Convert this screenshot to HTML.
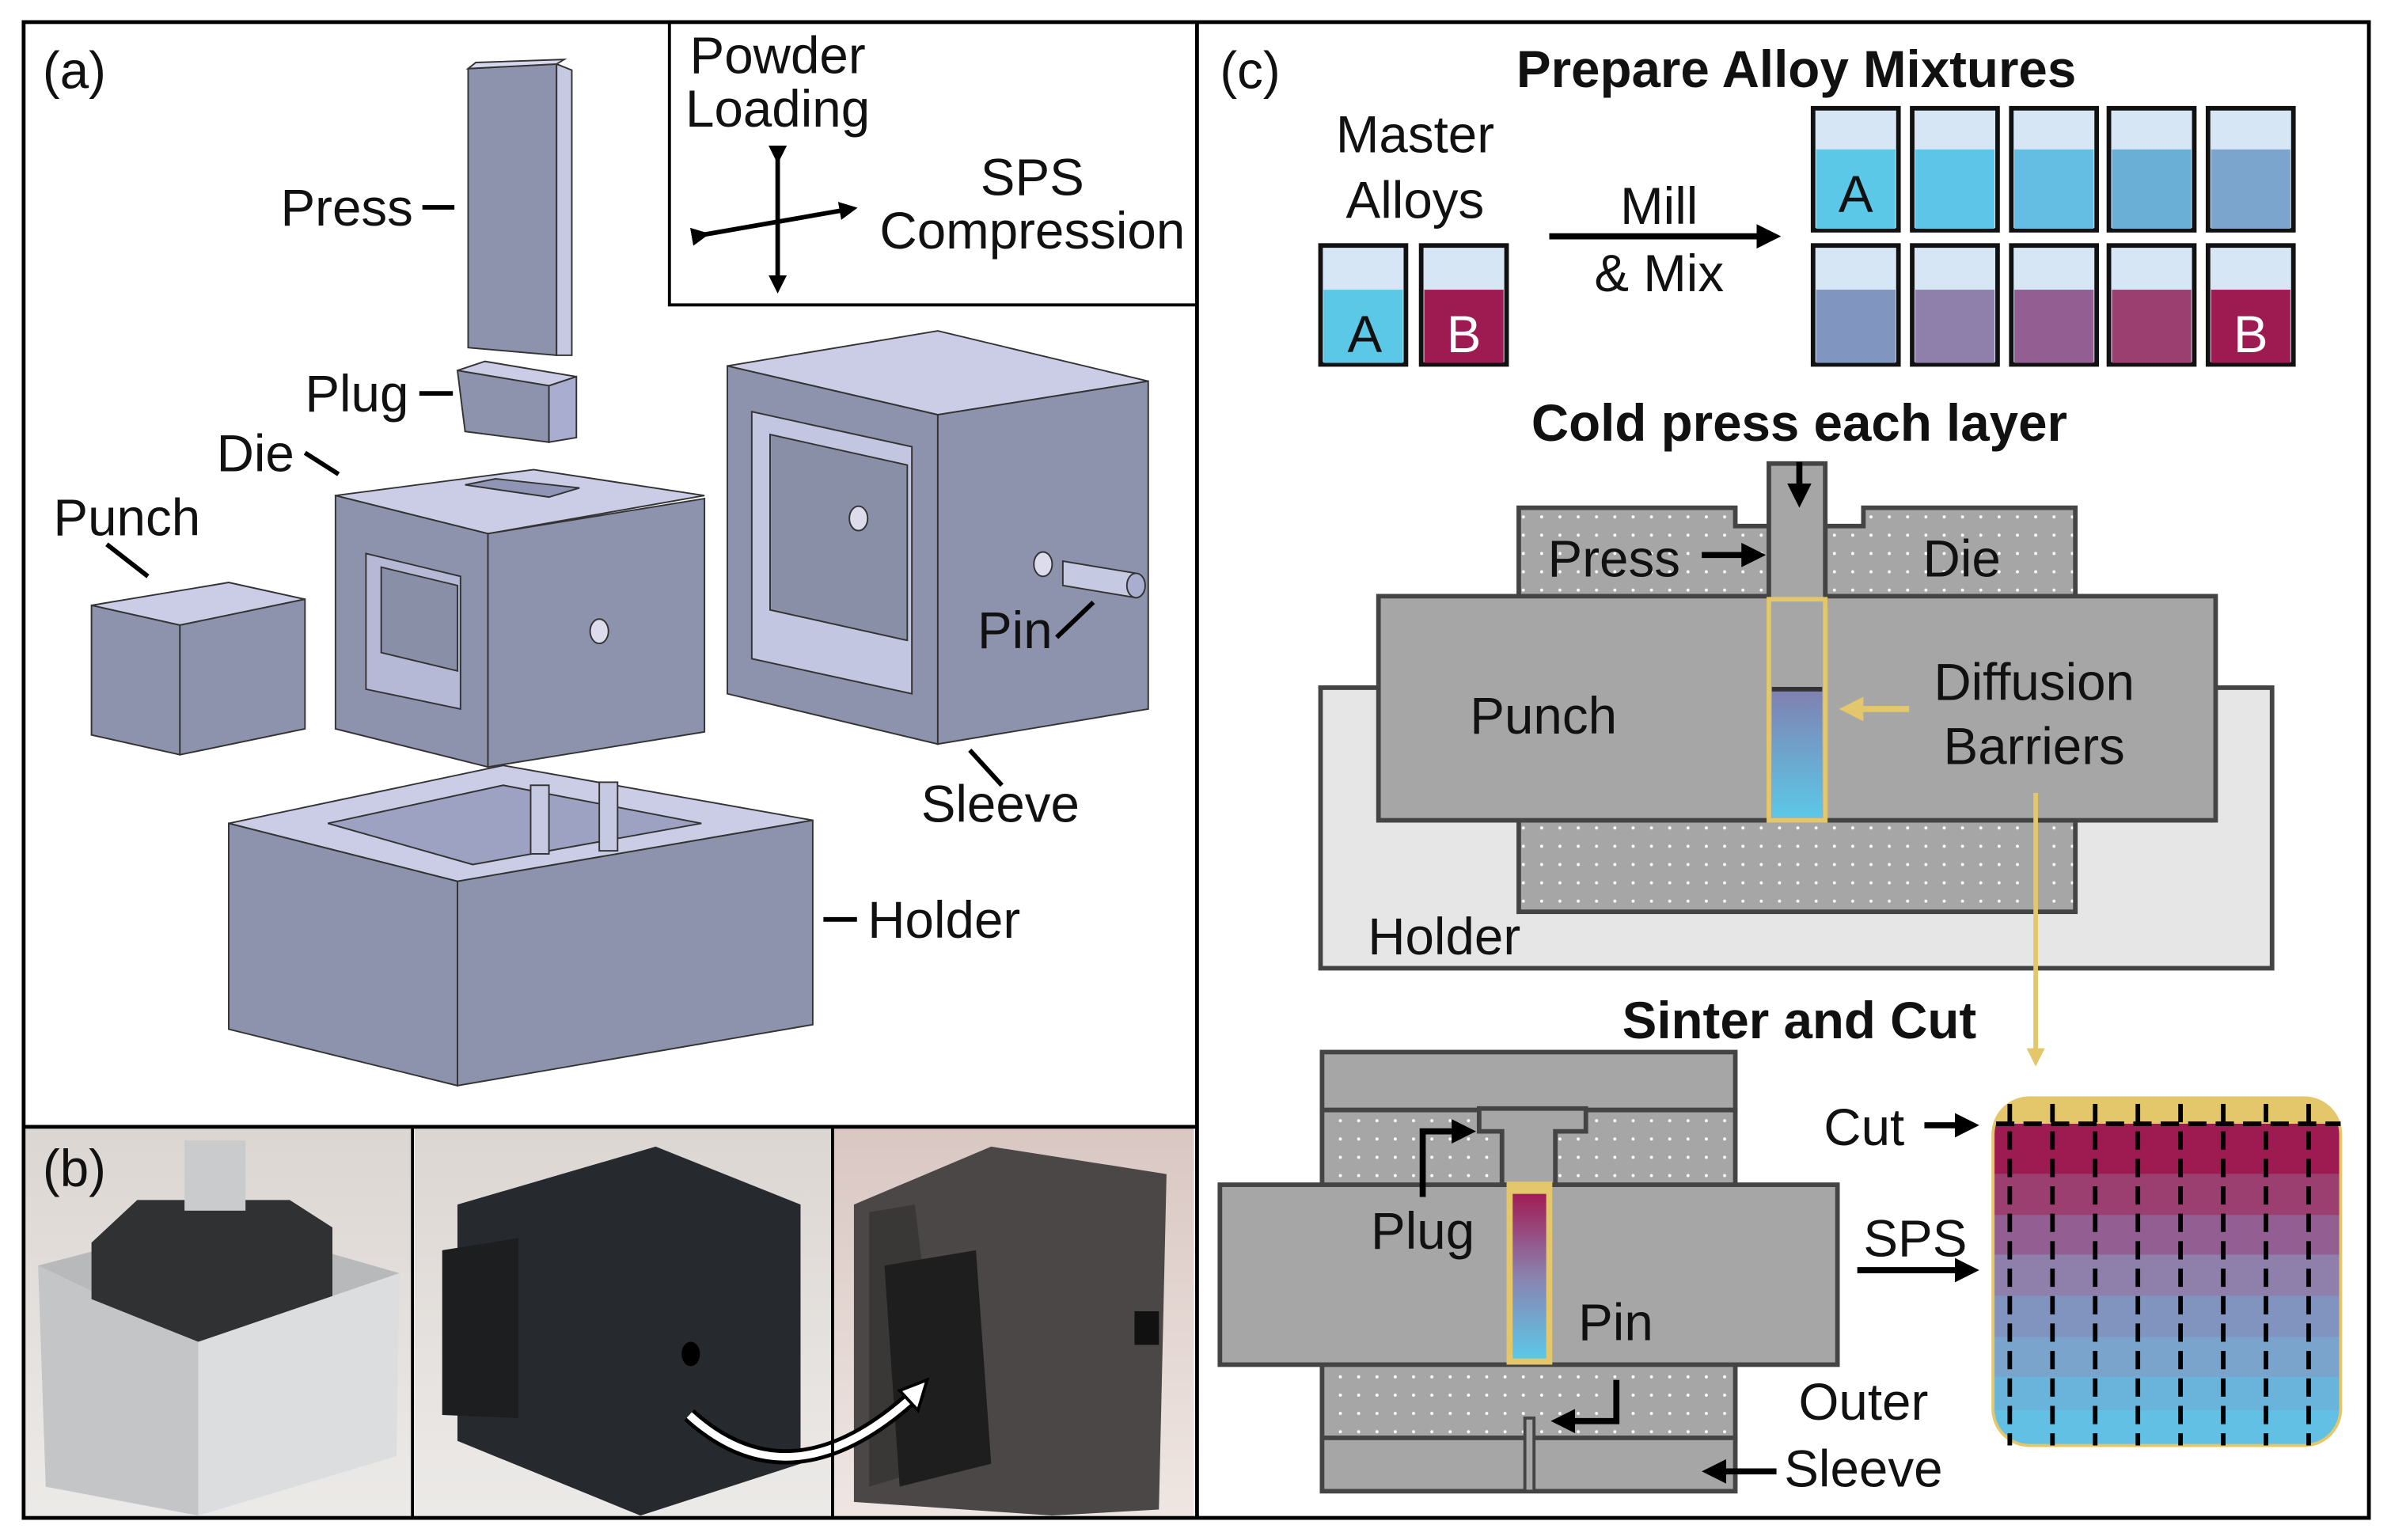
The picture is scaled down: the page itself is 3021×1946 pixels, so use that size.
<!DOCTYPE html>
<html><head><meta charset="utf-8"><style>
html,body{margin:0;padding:0;background:#fff;}
svg{display:block;}
text{font-family:"Liberation Sans",Arial,sans-serif;fill:#111;}
.b{font-weight:bold;}
</style></head><body>
<svg width="3021" height="1946" viewBox="0 0 1568 1010" preserveAspectRatio="none" xmlns="http://www.w3.org/2000/svg">
<defs>
<pattern id="dots" width="12" height="12" patternUnits="userSpaceOnUse">
<rect width="12" height="12" fill="#a6a6a6"/><circle cx="3" cy="3" r="1" fill="#fff"/></pattern>
<linearGradient id="s1" x1="0" y1="0" x2="0" y2="1"><stop offset="0" stop-color="#8080b0"/><stop offset="1" stop-color="#5bc8e8"/></linearGradient>
<linearGradient id="s2" x1="0" y1="0" x2="0" y2="1"><stop offset="0" stop-color="#a01c55"/><stop offset="0.5" stop-color="#8a82b0"/><stop offset="1" stop-color="#5bc8e8"/></linearGradient>
<linearGradient id="p1" x1="0" y1="0" x2="0" y2="1"><stop offset="0" stop-color="#dcd6d2"/><stop offset="1" stop-color="#eceae8"/></linearGradient>
<linearGradient id="p3" x1="0" y1="0" x2="0" y2="1"><stop offset="0" stop-color="#d9c7c2"/><stop offset="1" stop-color="#efe6e2"/></linearGradient>
<marker id="ah" markerWidth="4" markerHeight="4" refX="2.5" refY="2" orient="auto" markerUnits="strokeWidth"><path d="M0,0 L4,2 L0,4 z" fill="#000"/></marker>
<marker id="ay" markerWidth="4" markerHeight="4" refX="2.5" refY="2" orient="auto" markerUnits="strokeWidth"><path d="M0,0 L4,2 L0,4 z" fill="#e3c76a"/></marker>
</defs>
<rect width="1568" height="1010" fill="#fff"/>

<!-- (a) 3D parts -->
<g stroke="#333" stroke-width="1">
<polygon points="307,45 365,42 365,233 307,228" fill="#8d92ad"/>
<polygon points="365,42 375,46 375,233 365,233" fill="#c6c9e2"/>
<polygon points="307,45 312,41 370,39 365,42" fill="#d6d8ee"/>
<polygon points="300,243 318,237 378,247 360,253" fill="#cbcde6"/>
<polygon points="300,243 360,253 360,290 305,283" fill="#8d92ad"/>
<polygon points="360,253 378,247 378,287 360,290" fill="#a9add0"/>
<polygon points="60,397 150,382 200,393 118,410" fill="#cbcde6"/>
<polygon points="60,397 118,410 118,495 60,482" fill="#8d92ad"/>
<polygon points="118,410 200,393 200,478 118,495" fill="#8d92ad"/>
<polygon points="220,325 350,308 462,325 320,350" fill="#cbcde6"/>
<polygon points="305,318 325,314 380,320 360,326" fill="#9095b5"/>
<polygon points="220,325 320,350 320,503 220,478" fill="#8d92ad"/>
<polygon points="320,350 462,327 462,480 320,503" fill="#8d92ad"/>
<polygon points="240,363 302,378 302,465 240,452" fill="#b6b9d6"/>
<polygon points="250,372 300,384 300,440 250,428" fill="#8a8fa8"/>
<ellipse cx="393" cy="414" rx="6" ry="8" fill="#dcdcec"/>
<polygon points="477,240 615,217 753,250 615,272" fill="#cbcde6"/>
<polygon points="477,240 615,272 615,488 477,455" fill="#8d92ad"/>
<polygon points="615,272 753,250 753,465 615,488" fill="#8d92ad"/>
<polygon points="493,270 598,293 598,455 493,432" fill="#c3c6e0"/>
<polygon points="505,285 595,305 595,420 505,400" fill="#8a8fa8"/>
<ellipse cx="563" cy="340" rx="6" ry="8" fill="#dcdcec"/>
<ellipse cx="684" cy="370" rx="6" ry="8" fill="#dcdcec"/>
<polygon points="697,368 745,376 745,392 697,384" fill="#c6c9e2"/>
<ellipse cx="745" cy="384" rx="6" ry="8" fill="#a9add0"/>
<polygon points="150,540 330,502 533,538 300,578" fill="#cbcde6"/>
<polygon points="215,540 330,515 460,540 310,567" fill="#9ea2c2"/>
<rect x="348" y="515" width="12" height="45" fill="#c6c9e2"/>
<rect x="393" y="513" width="12" height="45" fill="#c6c9e2"/>
<polygon points="150,540 300,578 300,712 150,675" fill="#8d92ad"/>
<polygon points="300,578 533,538 533,672 300,712" fill="#8d92ad"/>
</g>
<g stroke="#000" stroke-width="3">
<line x1="277" y1="136" x2="298" y2="136"/>
<line x1="275" y1="258" x2="297" y2="258"/>
<line x1="200" y1="297" x2="222" y2="311"/>
<line x1="70" y1="357" x2="97" y2="378"/>
<line x1="693" y1="418" x2="717" y2="395"/>
<line x1="636" y1="492" x2="657" y2="515"/>
<line x1="540" y1="603" x2="562" y2="603"/>
</g>
<g font-size="34">
<text x="28" y="58">(a)</text>
<text x="184" y="148">Press</text>
<text x="200" y="270">Plug</text>
<text x="142" y="309">Die</text>
<text x="35" y="351">Punch</text>
<text x="641" y="425">Pin</text>
<text x="604" y="539">Sleeve</text>
<text x="569" y="615">Holder</text>
<text x="510" y="48" text-anchor="middle">Powder</text>
<text x="510" y="83" text-anchor="middle">Loading</text>
<text x="677" y="128" text-anchor="middle">SPS</text>
<text x="677" y="163" text-anchor="middle">Compression</text>
</g>
<g stroke="#000" stroke-width="3" marker-end="url(#ah)" marker-start="url(#ah)">
<line x1="510" y1="103" x2="510" y2="188"/>
<line x1="461" y1="154" x2="558" y2="137"/>
</g>
<polyline points="439,14 439,200 785,200" fill="none" stroke="#000" stroke-width="2"/>

<!-- (b) photos -->
<rect x="17" y="740" width="253" height="254" fill="url(#p1)"/>
<polygon points="25,830 140,800 262,835 130,880" fill="#b8b9bb"/>
<polygon points="25,830 130,880 130,994 30,975" fill="#c4c5c7"/>
<polygon points="130,880 262,835 260,955 130,994" fill="#dcdddf"/>
<polygon points="60,815 90,787 190,787 218,805 218,850 130,880 60,852" fill="#2f3133"/>
<rect x="121" y="748" width="40" height="46" fill="#c9cbcd"/>
<rect x="272" y="740" width="273" height="254" fill="url(#p1)"/>
<polygon points="300,790 430,752 525,790 525,960 420,994 300,945" fill="#26292d"/>
<polygon points="290,820 340,812 340,930 290,928" fill="#1c1e20"/>
<ellipse cx="453" cy="888" rx="6" ry="8" fill="#000"/>
<rect x="547" y="740" width="236" height="254" fill="url(#p3)"/>
<polygon points="560,790 650,752 765,770 760,990 690,994 560,985" fill="#4a4746"/>
<polygon points="570,795 600,790 620,960 570,975" fill="#3a3837"/>
<polygon points="580,830 640,820 650,960 590,975" fill="#1f1e1e"/>
<rect x="744" y="860" width="16" height="22" fill="#111"/>
<path d="M452,928 Q520,990 603,912" fill="none" stroke="#000" stroke-width="10"/>
<path d="M452,928 Q520,990 603,912" fill="none" stroke="#fff" stroke-width="5"/>
<polygon points="608,905 590,912 602,925" fill="#fff" stroke="#000" stroke-width="2"/>
<text x="28" y="778" font-size="34">(b)</text>
<line x1="270.5" y1="740" x2="270.5" y2="996" stroke="#000" stroke-width="2"/>
<line x1="546" y1="740" x2="546" y2="996" stroke="#000" stroke-width="2"/>

<!-- (c) -->
<text x="800" y="58" font-size="34">(c)</text>
<text x="1178" y="57" font-size="34" class="b" text-anchor="middle">Prepare Alloy Mixtures</text>
<text x="928" y="100" font-size="34" text-anchor="middle">Master</text>
<text x="928" y="143" font-size="34" text-anchor="middle">Alloys</text>
<g stroke="#111" stroke-width="3">
<rect x="866" y="161" width="56" height="78" fill="#d6e6f4"/><rect x="868" y="190" width="52" height="48" fill="#5bc8e8" stroke="none"/>
<rect x="932" y="161" width="56" height="78" fill="#d6e6f4"/><rect x="934" y="190" width="52" height="48" fill="#9e1b52" stroke="none"/>
<rect x="1189" y="71" width="56" height="80" fill="#d6e6f4"/><rect x="1191" y="98" width="52" height="52" fill="#5bc8e8" stroke="none"/>
<rect x="1254" y="71" width="56" height="80" fill="#d6e6f4"/><rect x="1256" y="98" width="52" height="52" fill="#5dc5e8" stroke="none"/>
<rect x="1319" y="71" width="56" height="80" fill="#d6e6f4"/><rect x="1321" y="98" width="52" height="52" fill="#64bde2" stroke="none"/>
<rect x="1383" y="71" width="56" height="80" fill="#d6e6f4"/><rect x="1385" y="98" width="52" height="52" fill="#6aafd6" stroke="none"/>
<rect x="1448" y="71" width="56" height="80" fill="#d6e6f4"/><rect x="1450" y="98" width="52" height="52" fill="#7ba5cc" stroke="none"/>
<rect x="1189" y="161" width="56" height="78" fill="#d6e6f4"/><rect x="1191" y="190" width="52" height="48" fill="#8095bf" stroke="none"/>
<rect x="1254" y="161" width="56" height="78" fill="#d6e6f4"/><rect x="1256" y="190" width="52" height="48" fill="#8e7fab" stroke="none"/>
<rect x="1319" y="161" width="56" height="78" fill="#d6e6f4"/><rect x="1321" y="190" width="52" height="48" fill="#935f92" stroke="none"/>
<rect x="1383" y="161" width="56" height="78" fill="#d6e6f4"/><rect x="1385" y="190" width="52" height="48" fill="#9a3f70" stroke="none"/>
<rect x="1448" y="161" width="56" height="78" fill="#d6e6f4"/><rect x="1450" y="190" width="52" height="48" fill="#9e1b52" stroke="none"/>
</g>
<g font-size="34" text-anchor="middle">
<text x="895" y="231">A</text><text x="960" y="231" style="fill:#fff">B</text>
<text x="1217" y="139">A</text><text x="1476" y="231" style="fill:#fff">B</text>
<text x="1088" y="147">Mill</text><text x="1088" y="191">&amp; Mix</text>
</g>
<line x1="1016" y1="155" x2="1162" y2="155" stroke="#000" stroke-width="4" marker-end="url(#ah)"/>

<text x="1180" y="289" font-size="34" class="b" text-anchor="middle">Cold press each layer</text>
<g stroke="#444" stroke-width="3">
<rect x="866" y="451" width="624" height="184" fill="#e6e6e6"/>
<rect x="996" y="535" width="365" height="63" fill="url(#dots)"/>
<path d="M996,333 L1138,333 L1138,345 L1160,345 L1160,392 L996,392 Z" fill="url(#dots)"/>
<path d="M1197,345 L1222,345 L1222,333 L1361,333 L1361,392 L1197,392 Z" fill="url(#dots)"/>
<rect x="904" y="391" width="549" height="147" fill="#a6a6a6"/>
<rect x="1160" y="304" width="37" height="92" fill="#a6a6a6"/>
</g>
<rect x="1160" y="393" width="37" height="145" fill="#a6a6a6" stroke="#e3c76a" stroke-width="3"/>
<rect x="1162" y="452" width="33" height="84" fill="url(#s1)"/>
<line x1="1162" y1="452" x2="1195" y2="452" stroke="#333" stroke-width="3"/>
<line x1="1180" y1="303" x2="1180" y2="327" stroke="#000" stroke-width="4" marker-end="url(#ah)"/>
<line x1="1116" y1="364" x2="1152" y2="364" stroke="#000" stroke-width="4" marker-end="url(#ah)"/>
<line x1="1252" y1="465" x2="1212" y2="465" stroke="#e3c76a" stroke-width="4" marker-end="url(#ay)"/>
<line x1="1335" y1="520" x2="1335" y2="695" stroke="#e3c76a" stroke-width="3" marker-end="url(#ay)"/>
<g font-size="34">
<text x="1015" y="378">Press</text><text x="1261" y="378">Die</text>
<text x="964" y="481">Punch</text>
<text x="1334" y="459" text-anchor="middle">Diffusion</text>
<text x="1334" y="501" text-anchor="middle">Barriers</text>
<text x="897" y="626">Holder</text>
</g>

<text x="1180" y="681" font-size="34" class="b" text-anchor="middle">Sinter and Cut</text>
<g stroke="#444" stroke-width="3">
<rect x="867" y="690" width="271" height="38" fill="#a6a6a6"/>
<rect x="867" y="728" width="271" height="50" fill="url(#dots)"/>
<rect x="867" y="894" width="271" height="50" fill="url(#dots)"/>
<rect x="867" y="943" width="271" height="35" fill="#a6a6a6"/>
<rect x="800" y="777" width="405" height="118" fill="#a6a6a6"/>
<path d="M970,727 L1040,727 L1040,742 L1020,742 L1020,777 L985,777 L985,742 L970,742 Z" fill="#a6a6a6"/>
<rect x="1000" y="930" width="6" height="48" fill="#a6a6a6" stroke-width="2"/>
</g>
<rect x="988" y="775" width="30" height="120" fill="#e3c76a"/>
<rect x="992" y="783" width="22" height="108" fill="url(#s2)"/>
<polyline points="933,785 933,742 962,742" fill="none" stroke="#000" stroke-width="4" marker-end="url(#ah)"/>
<polyline points="1060,905 1060,932 1023,932" fill="none" stroke="#000" stroke-width="4" marker-end="url(#ah)"/>
<line x1="1165" y1="965" x2="1122" y2="965" stroke="#000" stroke-width="4" marker-end="url(#ah)"/>
<line x1="1218" y1="833" x2="1292" y2="833" stroke="#000" stroke-width="4" marker-end="url(#ah)"/>
<line x1="1262" y1="738" x2="1292" y2="738" stroke="#000" stroke-width="4" marker-end="url(#ah)"/>
<g font-size="34">
<text x="899" y="819">Plug</text><text x="1035" y="879">Pin</text>
<text x="1222" y="931" text-anchor="middle">Outer</text>
<text x="1222" y="975" text-anchor="middle">Sleeve</text>
<text x="1256" y="824" text-anchor="middle">SPS</text>
<text x="1196" y="751">Cut</text>
</g>
<clipPath id="rc"><rect x="1307" y="720" width="228" height="228" rx="24"/></clipPath>
<g clip-path="url(#rc)">
<rect x="1307" y="720" width="228" height="228" fill="#5bc8e8"/>
<rect x="1307" y="720" width="228" height="17" fill="#e3c76a"/>
<rect x="1307" y="737" width="228" height="33" fill="#9e1b52"/>
<rect x="1307" y="770" width="228" height="27" fill="#9a3f70"/>
<rect x="1307" y="797" width="228" height="26" fill="#935f92"/>
<rect x="1307" y="823" width="228" height="27" fill="#8f7fab"/>
<rect x="1307" y="850" width="228" height="27" fill="#8094bf"/>
<rect x="1307" y="877" width="228" height="26" fill="#7ba4cc"/>
<rect x="1307" y="903" width="228" height="22" fill="#6ab3da"/>
<rect x="1307" y="925" width="228" height="23" fill="#62c0e4"/>
</g>
<rect x="1307" y="720" width="228" height="228" rx="24" fill="none" stroke="#e3c76a" stroke-width="2"/>
<g stroke="#000" stroke-width="3" stroke-dasharray="12,6">
<line x1="1309" y1="737" x2="1535" y2="737"/>
<line x1="1318" y1="724" x2="1318" y2="948"/><line x1="1346" y1="724" x2="1346" y2="948"/>
<line x1="1374" y1="724" x2="1374" y2="948"/><line x1="1402" y1="724" x2="1402" y2="948"/>
<line x1="1430" y1="724" x2="1430" y2="948"/><line x1="1458" y1="724" x2="1458" y2="948"/>
<line x1="1486" y1="724" x2="1486" y2="948"/><line x1="1514" y1="724" x2="1514" y2="948"/>
</g>

<rect x="15.5" y="14.5" width="1538" height="981" fill="none" stroke="#000" stroke-width="2.5"/>
<line x1="785" y1="14" x2="785" y2="996" stroke="#000" stroke-width="2.5"/>
<line x1="15" y1="739" x2="785" y2="739" stroke="#000" stroke-width="2.5"/>
</svg>
</body></html>
